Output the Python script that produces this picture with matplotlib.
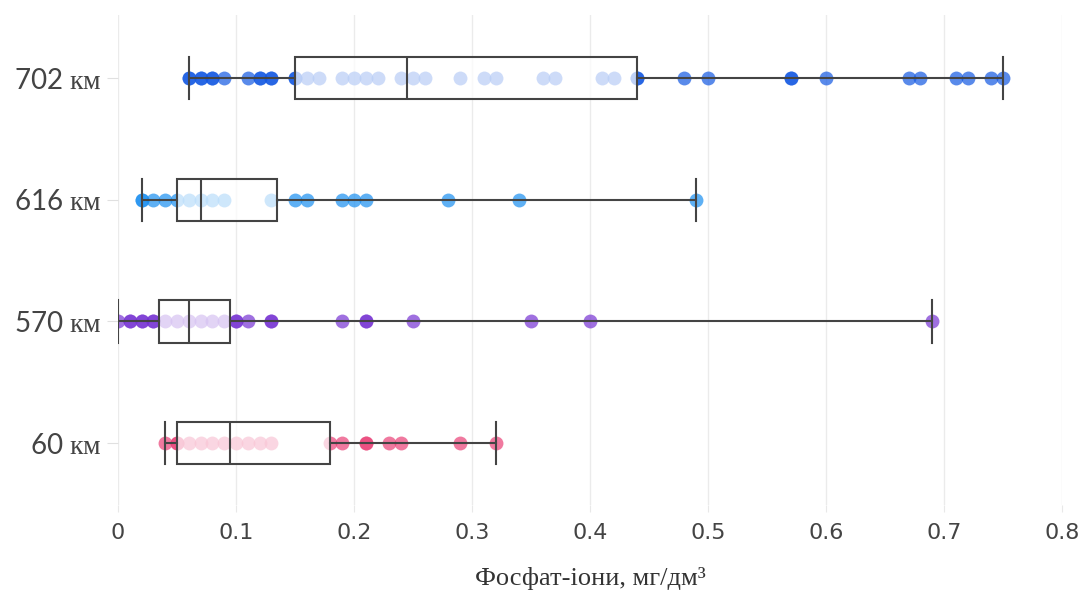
import matplotlib.pyplot as plt
import numpy as np

plt.rcParams['mathtext.fontset'] = 'custom'
plt.rcParams['mathtext.rm'] = 'Liberation Serif'

# categories (bottom to top)
labels = ['60 $\\mathrm{км}$', '570 $\\mathrm{км}$', '616 $\\mathrm{км}$', '702 $\\mathrm{км}$']
colors = ['#ea4177', '#7733d3', '#1a8ff0', '#1358e2']

# measured points, mg/dm3
pts_60 = [0.04, 0.05, 0.05, 0.06, 0.07, 0.08, 0.09, 0.10, 0.11, 0.12, 0.13,
          0.18, 0.19, 0.21, 0.21, 0.23, 0.24, 0.29, 0.32]
pts_570 = [0.0, 0.01, 0.01, 0.02, 0.02, 0.03, 0.03, 0.04, 0.05, 0.06, 0.07,
           0.08, 0.09, 0.10, 0.10, 0.11, 0.13, 0.13, 0.19, 0.21, 0.21, 0.25,
           0.35, 0.40, 0.69]
pts_616 = [0.02, 0.02, 0.03, 0.04, 0.05, 0.06, 0.07, 0.08, 0.09, 0.13, 0.15,
           0.16, 0.19, 0.20, 0.21, 0.28, 0.34, 0.49]
pts_702 = [0.06, 0.06, 0.07, 0.07, 0.08, 0.08, 0.09, 0.11, 0.12, 0.12, 0.13,
           0.13, 0.15, 0.15, 0.16, 0.17, 0.19, 0.20, 0.21, 0.22, 0.24, 0.25,
           0.26, 0.29, 0.31, 0.32, 0.36, 0.37, 0.41, 0.42, 0.44, 0.44, 0.48,
           0.50, 0.57, 0.57, 0.60, 0.67, 0.68, 0.71, 0.72, 0.74, 0.75]

# box statistics: whisker low, q1, median, q3, whisker high
whislo = [0.04, 0.0, 0.02, 0.06]
q1 = [0.05, 0.035, 0.05, 0.15]
med = [0.095, 0.06, 0.07, 0.245]
q3 = [0.18, 0.095, 0.135, 0.44]
whishi = [0.32, 0.69, 0.49, 0.75]

xticks = [0, 0.1, 0.2, 0.3, 0.4, 0.5, 0.6, 0.7, 0.8]
xticklabels = ['0', '0.1', '0.2', '0.3', '0.4', '0.5', '0.6', '0.7', '0.8']

fig = plt.figure(figsize=(10.83, 5.97), dpi=100)
ax = fig.add_axes([0.109, 0.154, 0.8716, 0.821])

all_pts = [pts_60, pts_570, pts_616, pts_702]
for i, p in enumerate(all_pts):
    ax.scatter(p, np.full(len(p), i), s=100, color=colors[i], alpha=0.7,
               linewidths=0, zorder=2)

stats = []
for i in range(4):
    stats.append({'whislo': whislo[i], 'q1': q1[i], 'med': med[i],
                  'q3': q3[i], 'whishi': whishi[i], 'fliers': []})

ax.bxp(stats, positions=range(4), widths=0.35, capwidths=0.35, vert=False,
       patch_artist=True, showfliers=False,
       boxprops=dict(facecolor=(1, 1, 1, 0.7), edgecolor='#444444', linewidth=1.5),
       whiskerprops=dict(color='#444444', linewidth=1.5),
       capprops=dict(color='#444444', linewidth=1.5),
       medianprops=dict(color='#444444', linewidth=1.5),
       zorder=3)

ax.set_xlim(0, 0.8)
ax.set_ylim(-0.51, 3.52)
ax.set_xticks(xticks)
ax.set_xticklabels(xticklabels, family=['Liberation Sans Narrow', 'DejaVu Sans'],
                   fontsize=16, color='#444444')
ax.set_yticks(range(4))
ax.set_yticklabels(labels, family=['Lato', 'Liberation Serif'], fontsize=20,
                   color='#444444')
ax.tick_params(axis='y', length=8, color='#e0e0e0', pad=4)
ax.tick_params(axis='x', length=5, color='#e8e8e8', pad=8)
ax.grid(axis='x', color='#ebebeb', linewidth=1)
ax.set_axisbelow(True)
for s in ax.spines.values():
    s.set_visible(False)

ax.set_xlabel('Фосфат-іони, мг/дм³', family=['Liberation Serif', 'DejaVu Serif'],
              fontsize=19, color='#333333', labelpad=17)

plt.savefig('out.png', dpi=100)
